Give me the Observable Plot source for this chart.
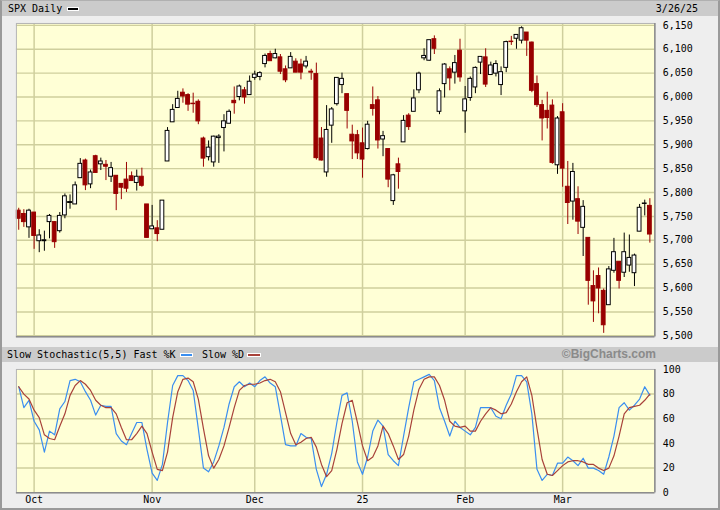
<!DOCTYPE html>
<html><head><meta charset="utf-8">
<script src="https://cdn.jsdelivr.net/npm/d3@7"></script>
<script src="https://cdn.jsdelivr.net/npm/@observablehq/plot@0.6"></script>
<style>
html,body{margin:0;padding:0;background:#eeeeee;}
#wrap{position:relative;width:720px;height:510px;overflow:hidden;background:#eeeeee;font-family:"DejaVu Sans Mono",monospace;font-size:10px;color:#000;box-sizing:border-box;border-left:2px solid #9a9a9a;border-right:2px solid #9a9a9a;border-bottom:2px solid #9a9a9a;border-top:1px solid #b0b0b0;}
.bar{position:absolute;left:0;right:0;background:#cbcbcb;}
.t{position:absolute;white-space:nowrap;}
.sw{position:absolute;border:1px solid #fff;}
.plot{position:absolute;left:-2px;}
</style></head>
<body>
<div id="wrap">
  <div class="bar" style="top:0;height:15px;"></div>
  <div class="t" style="left:6px;top:0;line-height:16px;">SPX Daily</div>
  <div class="sw" style="left:65px;top:6px;width:10px;height:2px;background:#000;"></div>
  <div class="t" style="right:20px;top:0;line-height:16px;">3/26/25</div>
  <div id="p1" class="plot" style="top:16px;"></div>
  <div class="bar" style="top:346px;height:15px;"></div>
  <div class="t" style="left:5px;top:346px;line-height:15px;">Slow Stochastic(5,5) Fast %K</div>
  <div class="sw" style="left:178px;top:352px;width:11px;height:2px;background:#3a8ef0;"></div>
  <div class="t" style="left:200px;top:346px;line-height:15px;">Slow %D</div>
  <div class="sw" style="left:245px;top:352px;width:12px;height:2px;background:#a8423a;"></div>
  <div class="t" style="right:62px;top:346px;line-height:15px;font-family:'Liberation Sans',Arial,sans-serif;font-weight:bold;font-size:12px;color:#8a8a8a;">©BigCharts.com</div>
  <div id="p2" class="plot" style="top:361px;"></div>
</div>
<script>
const dates = [
"2024-09-26","2024-09-27","2024-09-30",
"2024-10-01","2024-10-02","2024-10-03","2024-10-04","2024-10-07","2024-10-08","2024-10-09","2024-10-10","2024-10-11","2024-10-14","2024-10-15","2024-10-16","2024-10-17","2024-10-18","2024-10-21","2024-10-22","2024-10-23","2024-10-24","2024-10-25","2024-10-28","2024-10-29","2024-10-30","2024-10-31",
"2024-11-01","2024-11-04","2024-11-05","2024-11-06","2024-11-07","2024-11-08","2024-11-11","2024-11-12","2024-11-13","2024-11-14","2024-11-15","2024-11-18","2024-11-19","2024-11-20","2024-11-21","2024-11-22","2024-11-25","2024-11-26","2024-11-27","2024-11-29",
"2024-12-02","2024-12-03","2024-12-04","2024-12-05","2024-12-06","2024-12-09","2024-12-10","2024-12-11","2024-12-12","2024-12-13","2024-12-16","2024-12-17","2024-12-18","2024-12-19","2024-12-20","2024-12-23","2024-12-24","2024-12-26","2024-12-27","2024-12-30","2024-12-31",
"2025-01-02","2025-01-03","2025-01-06","2025-01-07","2025-01-08","2025-01-10","2025-01-13","2025-01-14","2025-01-15","2025-01-16","2025-01-17","2025-01-21","2025-01-22","2025-01-23","2025-01-24","2025-01-27","2025-01-28","2025-01-29","2025-01-30","2025-01-31",
"2025-02-03","2025-02-04","2025-02-05","2025-02-06","2025-02-07","2025-02-10","2025-02-11","2025-02-12","2025-02-13","2025-02-14","2025-02-18","2025-02-19","2025-02-20","2025-02-21","2025-02-24","2025-02-25","2025-02-26","2025-02-27","2025-02-28",
"2025-03-03","2025-03-04","2025-03-05","2025-03-06","2025-03-07","2025-03-10","2025-03-11","2025-03-12","2025-03-13","2025-03-14","2025-03-17","2025-03-18","2025-03-19","2025-03-20","2025-03-21","2025-03-24","2025-03-25","2025-03-26"];

const open = [5762,5755,5727,
5758,5698,5698,5738,5738,5719,5752,5778,5775,5830,5867,5817,5876,5859,5858,5833,5835,5818,5827,5834,5820,5833,5775,
5723,5725,5722,5865,5947,5977,6009,6004,5986,5990,5913,5874,5863,5914,5935,5944,5992,6000,6014,6004,
6040,6042,6069,6090,6081,6083,6058,6060,6074,6068,6064,6053,6048,5913,5842,5940,5985,6025,6006,5921,5920,
5903,5891,5983,5993,5911,5891,5782,5859,5905,5961,5969,6014,6081,6076,6121,5969,6027,6058,6051,6097,
5970,5998,6020,6072,6083,6046,6049,6025,6061,6116,6122,6118,6135,6114,6027,5983,5971,5982,5857,
5968,5812,5781,5786,5726,5705,5604,5625,5594,5564,5636,5655,5632,5647,5631,5718,5776,5772];

const high = [5767,5764,5765,
5758,5722,5719,5754,5739,5758,5797,5795,5822,5871,5870,5847,5878,5872,5867,5863,5835,5818,5863,5843,5847,5851,5775,
5773,5741,5783,5936,5984,6012,6017,6007,6008,5994,5916,5908,5918,5921,5963,5973,6021,6025,6020,6044,
6054,6053,6090,6096,6100,6089,6065,6093,6080,6079,6085,6058,6071,5936,5982,5978,6040,6050,6006,5941,5930,
5935,5949,6021,6001,5928,5891,5838,5872,5961,5965,6015,6052,6101,6119,6128,6017,6070,6063,6087,6121,
6022,6042,6063,6084,6101,6073,6076,6063,6117,6127,6130,6147,6135,6115,6044,5993,6010,5994,5959,
5986,5865,5861,5812,5783,5705,5636,5642,5598,5645,5704,5655,5715,5711,5671,5775,5784,5787];

const low = [5721,5727,5704,
5681,5674,5677,5703,5683,5715,5745,5765,5775,5830,5804,5808,5840,5846,5825,5821,5762,5785,5800,5823,5803,5811,5704,
5723,5697,5722,5865,5947,5977,5987,5970,5966,5942,5853,5866,5853,5861,5885,5944,5964,5992,5985,6004,
6035,6034,6061,6075,6080,6047,6030,6060,6051,6036,6059,6035,5868,5866,5832,5903,5981,6007,5933,5869,5869,
5830,5889,5960,5891,5875,5810,5773,5807,5905,5930,5969,6007,6076,6075,6089,5963,5998,6013,6027,6031,
5924,5991,6007,6047,6020,6045,6042,6003,6051,6108,6100,6111,6085,6009,5978,5908,5933,5859,5838,
5811,5733,5742,5712,5666,5564,5528,5546,5505,5564,5631,5598,5622,5633,5603,5718,5751,5694];

const close = [5745,5738,5762,
5709,5710,5700,5751,5696,5751,5792,5780,5815,5860,5815,5842,5841,5865,5854,5851,5797,5810,5808,5824,5833,5814,5705,
5729,5713,5783,5929,5973,5996,6001,5984,5985,5949,5871,5894,5917,5917,5949,5969,5987,6022,5999,6032,
6047,6050,6086,6075,6090,6053,6035,6084,6051,6051,6074,6051,5872,5867,5931,5974,6040,6038,5971,5907,5882,
5869,5942,5975,5909,5918,5827,5836,5843,5950,5937,5997,6049,6086,6119,6101,6012,6068,6039,6071,6041,
5995,6038,6061,6084,6026,6066,6069,6052,6115,6115,6130,6144,6118,6013,5983,5955,5956,5862,5955,
5850,5778,5843,5739,5770,5615,5572,5599,5522,5639,5675,5615,5675,5663,5668,5768,5777,5712];

const fastK = [86,69,75,
58,51,33,50,47,68,74,91,92,90,82,75,63,71,70,70,48,42,39,48,57,57,35,
16,10,23,57,87,95,95,91,83,52,20,17,25,38,53,72,86,90,86,89,
86,91,94,89,86,63,39,38,38,48,45,44,19,5,15,32,57,79,81,58,25,
15,29,50,59,54,31,26,22,46,69,90,92,94,96,91,69,58,46,58,53,
50,47,53,69,69,69,62,60,71,80,95,95,90,64,19,10,15,14,24,
24,29,26,22,28,20,20,18,15,29,46,69,73,67,71,76,86,79];

const slowD = [86,80,76,
67,61,47,44,43,54,64,79,87,91,88,83,75,71,69,69,64,53,43,43,48,54,48,
33,19,18,33,61,82,92,93,90,76,52,30,20,27,38,53,69,83,87,88,
88,89,91,92,90,82,65,48,39,41,44,45,37,23,13,18,35,56,73,75,57,
38,26,29,38,54,48,38,27,31,46,67,84,92,94,94,87,75,58,54,53,
54,50,50,58,64,69,67,64,65,72,82,90,94,79,52,27,15,14,18,
22,25,26,26,25,23,23,20,18,20,30,46,64,69,70,71,75,80];

const priceTicks = [5500,5550,5600,5650,5700,5750,5800,5850,5900,5950,6000,6050,6100,6150];
const stochTicks = [0,20,40,60,80,100];
const monthLabels = ["Oct","Nov","Dec","25","Feb","Mar"];

// month starts (first trading day of each new month)
const monthIdx = [];
dates.forEach((d, i) => { if (i > 0 && d.slice(5,7) !== dates[i-1].slice(5,7)) monthIdx.push(i); });
const labelByIdx = new Map(monthIdx.map((m, k) => [m, monthLabels[k]]));

const candles = dates.map((d, i) => ({i, date: d, open: open[i], high: high[i], low: low[i], close: close[i]}));
const up = candles.filter(d => d.close >= d.open);
const down = candles.filter(d => d.close < d.open);
const stoch = dates.map((d, i) => ({i, k: fastK[i], d: slowD[i]}));

const RED = "#990000";
const GRID = "#cfcf9d";
const PANEL = "#ffffd6";
const xDomain = [-0.45, 123.97];
const hw = 0.37;
const style = {fontFamily: "DejaVu Sans Mono, monospace", fontSize: "10px", background: "transparent", overflow: "visible", color: "#000"};

const p1 = Plot.plot({
  width: 722, height: 329,
  marginLeft: 16, marginRight: 64, marginTop: 6, marginBottom: 8,
  style,
  x: {domain: xDomain, axis: null},
  y: {domain: [5498, 6154], label: null},
  marks: [
    Plot.frame({fill: PANEL}),
    Plot.ruleY(priceTicks, {stroke: GRID, strokeWidth: 1.5}),
    Plot.ruleX(monthIdx, {stroke: GRID, strokeWidth: 1.5}),
    Plot.ruleX(down, {x: "i", y1: "low", y2: "high", stroke: RED, strokeWidth: 1}),
    Plot.ruleX(up, {x: "i", y1: "low", y2: "high", stroke: "#000", strokeWidth: 1}),
    Plot.rect(down, {x1: d => d.i - hw, x2: d => d.i + hw, y1: "open", y2: "close", fill: RED, stroke: RED, strokeWidth: 1}),
    Plot.rect(up, {x1: d => d.i - hw, x2: d => d.i + hw, y1: "open", y2: "close", fill: "#fff", stroke: "#000", strokeWidth: 1}),
    Plot.frame({stroke: "#b4b4b4"}),
    Plot.ruleX([xDomain[1]], {stroke: "#8c8c8c", strokeWidth: 1.5}),
    Plot.ruleY([5498], {stroke: "#8c8c8c", strokeWidth: 1.5}),
    Plot.axisY(priceTicks, {anchor: "right", tickSize: 0, tickPadding: 8, tickFormat: d3.format(","), label: null, fontSize: 10})
  ]
});
document.getElementById("p1").appendChild(p1);

const p2 = Plot.plot({
  width: 722, height: 149,
  marginLeft: 16, marginRight: 64, marginTop: 7, marginBottom: 18,
  style,
  x: {domain: xDomain, label: null},
  y: {domain: [0, 100], label: null},
  marks: [
    Plot.frame({fill: PANEL}),
    Plot.ruleY([20, 40, 60, 80], {stroke: GRID, strokeWidth: 1.5}),
    Plot.ruleX(monthIdx, {stroke: GRID, strokeWidth: 1.5}),
    Plot.line(stoch, {x: "i", y: "k", stroke: "#3a8ef0", strokeWidth: 1.2}),
    Plot.line(stoch, {x: "i", y: "d", stroke: "#a8423a", strokeWidth: 1.2}),
    Plot.frame({stroke: "#b4b4b4"}),
    Plot.ruleX([xDomain[1]], {stroke: "#8c8c8c", strokeWidth: 1.5}),
    Plot.ruleY([0], {stroke: "#8c8c8c", strokeWidth: 1.5}),
    Plot.axisY(stochTicks, {anchor: "right", tickSize: 0, tickPadding: 8, label: null, fontSize: 10}),
    Plot.axisX(monthIdx, {anchor: "bottom", tickSize: 0, tickPadding: 3, tickFormat: d => labelByIdx.get(d), label: null, fontSize: 10})
  ]
});
document.getElementById("p2").appendChild(p2);
</script>
</body></html>
